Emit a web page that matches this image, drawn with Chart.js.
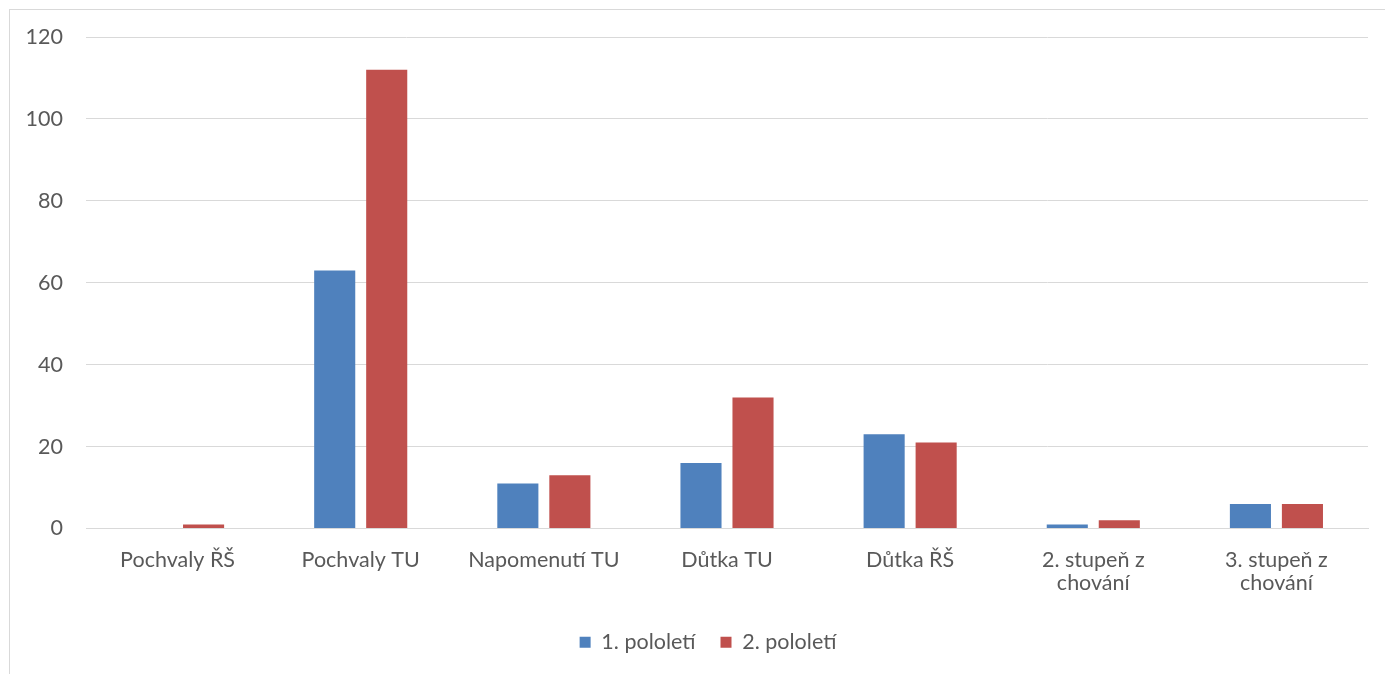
<!DOCTYPE html>
<html>
<head>
<meta charset="utf-8">
<script src="https://cdn.jsdelivr.net/npm/chart.js@4"></script>
<style>
  html, body { margin: 0; padding: 0; background: #fff; }
  #wrap { position: relative; width: 1385px; height: 674px; overflow: hidden; }
  #frame { position: absolute; left: 9px; top: 9px; width: 1400px; height: 700px; border: 1px solid #d9d9d9; box-sizing: border-box; }
  canvas { position: absolute; left: 0; top: 0; }
</style>
</head>
<body>
<div id="wrap">
  <div id="frame"></div>
  <canvas id="chartKazen" width="1385" height="674"></canvas>
</div>
<script>
// kategorie a hodnoty
const categories = ['Pochvaly ŘŠ', 'Pochvaly TU', 'Napomenutí TU', 'Důtka TU', 'Důtka ŘŠ', ['2. stupeň z', 'chování'], ['3. stupeň z', 'chování']];
const pololeti1 = [0, 63, 11, 16, 23, 1, 6];
const pololeti2 = [1, 112, 13, 32, 21, 2, 6];
const yTicks = [0, 20, 40, 60, 80, 100, 120];

const COLORS = { blue: '#4F81BD', red: '#C0504D', grid: '#d9d9d9', text: '#595959' };
const FONT = 'Lato, "Open Sans", sans-serif';

// legenda je v originále posunutá mírně doprava
const shiftLegend = {
    id: 'shiftLegend',
    afterLayout(chart) {
        if (chart.legend) { chart.legend.left += 24; chart.legend.right += 24; }
    }
};

new Chart(document.getElementById('chartKazen'), {
    type: 'bar',
    data: {
        labels: categories,
        datasets: [
            { label: '1. pololetí', data: pololeti1, backgroundColor: COLORS.blue },
            { label: '2. pololetí', data: pololeti2, backgroundColor: COLORS.red }
        ]
    },
    options: {
        responsive: false,
        animation: false,
        categoryPercentage: 0.568,
        barPercentage: 0.79,
        layout: { padding: { top: 37, right: 17, bottom: 11, left: 0 } },
        plugins: {
            tooltip: { enabled: false },
            legend: {
                position: 'bottom',
                labels: {
                    color: COLORS.text,
                    font: { family: FONT, size: 21.5 },
                    boxWidth: 11, boxHeight: 11,
                    padding: 25
                }
            }
        },
        scales: {
            y: {
                min: 0, max: 120,
                afterBuildTicks: (scale) => { scale.ticks = yTicks.map(v => ({ value: v })); },
                afterFit: (scale) => { scale.width = 86; },
                grid: { color: COLORS.grid, drawTicks: false },
                border: { display: false },
                ticks: { color: COLORS.text, font: { family: FONT, size: 21.5 }, padding: 23 }
            },
            x: {
                grid: { display: false },
                border: { color: COLORS.grid, width: 1 },
                ticks: { color: COLORS.text, font: { family: FONT, size: 21.5, lineHeight: 1.07 }, padding: 12, maxRotation: 0 }
            }
        }
    },
    plugins: [shiftLegend]
});
</script>
</body>
</html>
